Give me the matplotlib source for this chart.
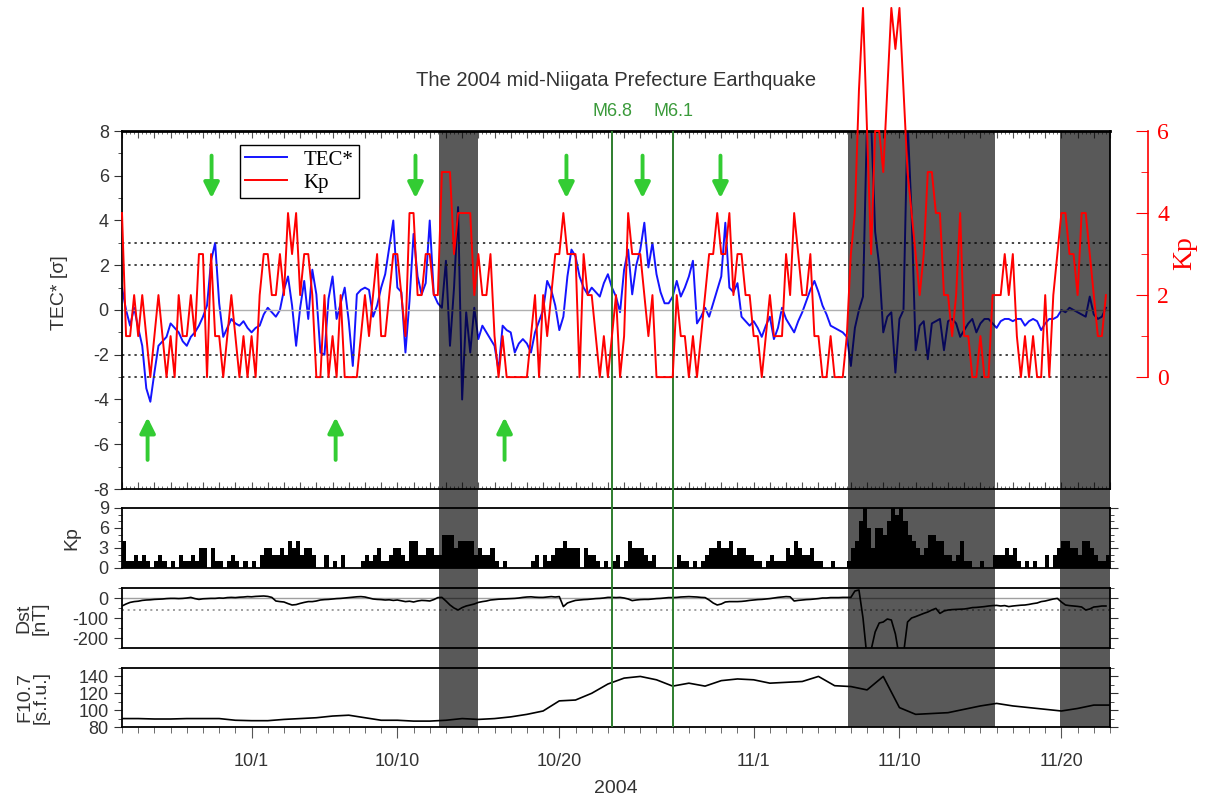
import numpy as np
import matplotlib
matplotlib.use("Agg")
import matplotlib.pyplot as plt
from matplotlib.ticker import MultipleLocator, FixedLocator

plt.rcParams["font.family"] = ["Liberation Sans", "DejaVu Sans"]
plt.rcParams["axes.unicode_minus"] = False

# time axis: days since 2004-10-01 00:00, series start 9/23, 6-hourly samples
t0 = -8
step = 0.25

# Kp (6-hourly), one row per day from 9/23 to 11/22
kp = np.array([
    [4, 1, 1, 2], [1, 2, 1, 0], [1, 2, 1, 0], [1, 0, 2, 1], [1, 2, 1, 3],
    [3, 0, 3, 1], [1, 0, 1, 2], [1, 0, 1, 0], [1, 0, 2, 3], [3, 2, 2, 3],
    [2, 4, 3, 4], [2, 3, 3, 2], [0, 0, 2, 0], [1, 0, 2, 0], [0, 0, 0, 1],
    [2, 1, 2, 3], [1, 1, 2, 3], [3, 2, 1, 4], [4, 2, 2, 3], [3, 2, 2, 5],
    [5, 5, 3, 4], [4, 4, 4, 2], [3, 2, 2, 3], [1, 0, 1, 0], [0, 0, 0, 0],
    [0, 1, 2, 0], [2, 1, 2, 3], [3, 4, 3, 3], [3, 0, 3, 2], [2, 1, 0, 1],
    [0, 1, 2, 0], [1, 4, 3, 3], [3, 2, 1, 2], [0, 0, 0, 0], [0, 2, 1, 1],
    [0, 1, 0, 1], [2, 3, 3, 4], [3, 3, 4, 2], [3, 3, 2, 2], [1, 1, 0, 1],
    [2, 1, 1, 1], [3, 2, 4, 3], [2, 2, 3, 1], [1, 0, 0, 1], [0, 0, 0, 1],
    [3, 4, 7, 9], [6, 3, 6, 6], [5, 7, 9, 8], [9, 7, 5, 4], [3, 2, 3, 5],
    [5, 4, 4, 2], [2, 1, 2, 4], [1, 1, 0, 0], [1, 0, 0, 2], [2, 2, 3, 2],
    [3, 1, 0, 1], [0, 1, 0, 0], [2, 0, 2, 3], [4, 4, 3, 3], [2, 4, 4, 3],
    [2, 1, 1, 2],
]).ravel()

# normalised TEC anomaly (6-hourly)
tec = np.array([
    [1.0, 0.0, -0.7, 0.1], [-0.8, -1.6, -3.5, -4.1], [-2.8, -1.6, -1.4, -1.2],
    [-0.6, -0.8, -1.0, -1.4], [-1.6, -1.2, -1.0, -0.7], [-0.3, 0.2, 2.2, 3.0],
    [0.3, -1.2, -0.8, -0.4], [-0.6, -0.7, -0.5, -0.8], [-1.0, -0.8, -0.7, -0.2],
    [0.1, -0.1, -0.3, 0.0], [0.9, 1.5, 0.2, -1.6], [0.1, 1.3, -0.4, 1.8],
    [0.7, -1.9, -2.0, 0.5], [1.5, -0.4, 0.3, 1.0], [-0.5, -2.5, 0.7, 0.9],
    [1.0, 0.9, -0.3, 0.2], [1.0, 1.6, 2.8, 4.0], [1.0, 0.8, -1.9, 0.4],
    [3.4, 1.5, 0.7, 1.2], [4.0, 0.7, 0.3, 0.1], [2.2, -1.6, 1.0, 4.6],
    [-4.0, -0.1, -1.9, 0.1], [-1.3, -0.7, -1.0, -1.3], [-1.6, -2.7, -0.7, -0.9],
    [-1.0, -1.9, -1.5, -1.3], [-1.5, -1.9, -1.0, -0.5], [0.0, 1.3, 0.9, 0.2],
    [-0.9, -0.3, 1.5, 2.7], [2.4, 1.5, 1.0, 0.7], [1.0, 0.8, 0.6, 1.2],
    [1.6, 1.0, 0.6, -0.1], [1.8, 2.7, 0.7, 2.0], [2.7, 3.9, 1.9, 3.0],
    [1.6, 0.8, 0.3, 0.3], [0.6, 1.3, 0.6, 1.0], [1.5, 2.2, -0.6, -0.3],
    [0.1, -0.3, 0.3, 0.9], [1.5, 3.9, 1.0, 0.8], [1.2, -0.3, -0.5, -0.7],
    [-0.5, -0.8, -1.2, -0.7], [-0.3, -1.3, -0.8, 0.1], [-0.4, -0.7, -1.0, -0.5],
    [-0.1, 0.4, 0.9, 1.3], [0.8, 0.2, -0.2, -0.7], [-0.8, -0.9, -1.0, -1.2],
    [-2.5, -0.8, 0.0, 0.6], [8.5, 8.5, 3.5, 2.0], [-1.0, -0.3, -0.1, -2.8],
    [-0.4, 0.0, 8.5, 4.3], [-1.8, -0.7, -0.5, -2.2], [-0.6, -0.5, -0.4, -1.8],
    [-0.5, -0.4, -0.6, -1.2], [-0.9, -0.6, -0.4, -1.0], [-0.6, -0.4, -0.4, -0.6],
    [-0.8, -0.5, -0.4, -0.4], [-0.5, -0.4, -0.4, -0.7], [-0.5, -0.4, -0.5, -0.9],
    [-0.6, -0.4, -0.4, -0.3], [0.0, -0.1, 0.1, 0.0], [-0.1, -0.2, -0.3, 0.6],
    [-0.2, -0.4, -0.3, 0.1],
]).ravel()

# Dst [nT] (6-hourly)
dst = np.array([
    [-40, -30, -22, -18], [-16, -12, -10, -9], [-7, -6, -5, -3], [-2, -2, -3, -2],
    [0, 3, -3, -7], [-4, -3, -2, -2], [0, -1, 2, 3], [2, 4, 5, 7],
    [6, 8, 9, 10], [8, 3, -15, -18], [-20, -28, -35, -33], [-27, -22, -18, -18],
    [-15, -10, -8, -7], [-5, -3, -2, 0], [2, 4, 6, 7], [5, 0, -5, -7],
    [-8, -10, -9, -12], [-10, -14, -18, -16], [-20, -15, -12, -13], [-15, -8, 2, 3],
    [-15, -35, -50, -60], [-48, -40, -35, -30], [-22, -18, -15, -10], [-8, -6, -5, -4],
    [-3, -2, 0, 3], [5, 6, 4, 3], [3, 5, 7, 5], [7, -43, -25, -18],
    [-12, -10, -8, -7], [-5, -3, -2, 0], [3, 3, 2, 3], [0, -5, -13, -10],
    [-8, -7, -7, -5], [-3, -2, 0, 2], [2, 3, 5, 6], [7, 6, 5, 3],
    [2, -10, -25, -35], [-30, -20, -18, -18], [-18, -17, -15, -12], [-10, -8, -7, -5],
    [-3, 0, 3, 5], [7, 6, -15, -12], [-10, -8, -7, -5], [-3, 0, 0, 2],
    [2, 2, 3, 3], [3, 35, 40, -100], [-300, -260, -170, -125], [-120, -105, -110, -180],
    [-300, -280, -120, -100], [-93, -85, -77, -70], [-60, -52, -77, -65], [-60, -58, -57, -56],
    [-55, -52, -48, -47], [-45, -43, -40, -38], [-37, -40, -38, -43], [-40, -38, -36, -35],
    [-32, -28, -25, -18], [-15, -10, -5, -2], [-20, -35, -38, -40], [-42, -45, -60, -55],
    [-45, -43, -40, -40],
]).ravel()

# F10.7 [s.f.u.], daily from 9/23 to 11/23
f107 = [90, 90, 89.5, 89.5, 90, 90, 90, 88, 87.5, 87.5, 89, 90, 91, 93, 94, 91,
        88, 88, 87, 87, 88, 90, 89, 90, 92, 95, 99, 111, 112, 120, 131, 138,
        140, 136, 128.5, 132, 128.5, 135, 137, 136, 132, 133, 134, 140, 129, 128,
        124, 140, 103, 95, 96, 97, 101, 105, 108, 105, 103, 101, 99, 102, 106, 106]

storm_spans = [(11.6, 13.95), (36.85, 45.9), (49.9, 53.0)]
quake_days = [22.28, 26.05]
quake_labels = ["M6.8", "M6.1"]
down_arrow_days = [-2.47, 10.12, 19.44, 24.14, 28.95]
up_arrow_days = [-6.42, 5.19, 15.62]
date_ticks = [0, 9, 19, 31, 40, 50]
date_labels = ["10/1", "10/10", "10/20", "11/1", "11/10", "11/20"]

W, H = 1209, 805
TXT = "#333333"


def box(x0, y0, x1, y1):
    return [x0 / W, 1 - y1 / H, (x1 - x0) / W, (y1 - y0) / H]


def style_y(ax, major, minor, length=6):
    ax.yaxis.set_major_locator(MultipleLocator(major))
    ax.yaxis.set_minor_locator(MultipleLocator(minor))
    ax.tick_params(axis="y", which="both", direction="out", left=True, right=True,
                   labelsize=13, colors=TXT, labelcolor=TXT)
    ax.tick_params(axis="y", which="major", length=length)
    ax.tick_params(axis="y", which="minor", length=3)
    for s in ax.spines.values():
        s.set_linewidth(1.3)


t = t0 + np.arange(len(tec)) * step
t_kp = t0 + np.arange(len(kp)) * step
t_dst = t0 + np.arange(len(dst)) * step
t_f = t0 + np.arange(len(f107))

fig = plt.figure(figsize=(W / 100, H / 100), dpi=100)

# main TEC panel
ax = fig.add_axes(box(122, 131, 1110, 489))
ax.set_zorder(1)
ax.plot(t, tec, color="#1414ff", lw=1.4, label="TEC*")
ax.axhline(0, color="#b0b0b0", lw=1.0)
for lev in (-3, -2, 2, 3):
    ax.axhline(lev, color="#444444", lw=1.4, ls=(0, (1.2, 2.0)))
ax.set_xlim(-8, 53)
ax.set_ylim(-8, 8)
style_y(ax, 2, 1)
ax.xaxis.set_major_locator(MultipleLocator(1))
ax.xaxis.set_minor_locator(MultipleLocator(0.25))
ax.tick_params(axis="x", which="both", direction="in", top=True, bottom=True,
               labelbottom=False, color="#555555")
ax.tick_params(axis="x", which="major", length=5)
ax.tick_params(axis="x", which="minor", length=2.5)
ax.spines["top"].set_linewidth(2)

for d in down_arrow_days:
    ax.annotate("", xy=(d, 5.0), xytext=(d, 6.9),
                arrowprops=dict(arrowstyle="-|>", color="#33cc33", lw=2.8,
                                mutation_scale=23, shrinkA=0, shrinkB=0))
for d in up_arrow_days:
    ax.annotate("", xy=(d, -4.8), xytext=(d, -6.7),
                arrowprops=dict(arrowstyle="-|>", color="#33cc33", lw=2.8,
                                mutation_scale=23, shrinkA=0, shrinkB=0))

# Kp panel
ax_kp = fig.add_axes(box(122, 508, 1110, 568))
ax_kp.bar(t_kp, kp, width=step, align="edge", color="black", lw=0)
ax_kp.set_ylim(0, 9)
style_y(ax_kp, 3, 1)

# Dst panel
ax_dst = fig.add_axes(box(122, 588, 1110, 648))
ax_dst.axhline(0, color="#a0a0a0", lw=1.0)
ax_dst.axhline(-60, color="#909090", lw=1.2, ls=(0, (1.2, 2.2)))
ax_dst.plot(t_dst, dst, color="black", lw=1.2)
ax_dst.set_ylim(-250, 50)
style_y(ax_dst, 100, 50)

# F10.7 panel
ax_f = fig.add_axes(box(122, 668, 1110, 727))
ax_f.plot(t_f, f107, color="black", lw=1.2)
ax_f.set_ylim(80, 150)
style_y(ax_f, 20, 10)

for a in (ax_kp, ax_dst, ax_f):
    a.set_facecolor("none")
    a.set_xlim(-8, 53)
    a.set_zorder(1)
for a in (ax_kp, ax_dst):
    a.tick_params(axis="x", which="both", bottom=False, labelbottom=False)

ax_f.xaxis.set_major_locator(FixedLocator(date_ticks))
ax_f.set_xticklabels(date_labels)
ax_f.xaxis.set_minor_locator(MultipleLocator(1))
ax_f.tick_params(axis="x", which="major", direction="out", length=8, pad=11,
                 labelsize=13, colors="#555555", labelcolor=TXT)
ax_f.tick_params(axis="x", which="minor", direction="out", length=4, colors="#555555")

# storm shading and earthquake lines across all panels
ov = fig.add_axes(box(122, 131, 1110, 727))
ov.set_zorder(2)
ov.set_xlim(-8, 53)
ov.set_ylim(0, 1)
ov.axis("off")
for a, b in storm_spans:
    ov.axvspan(a, b, color="black", alpha=0.65, lw=0)
for d, lab in zip(quake_days, quake_labels):
    ov.axvline(d, color="#2e7d2e", lw=1.4)
    ov.text(d, 1.032, lab, color="#3a9a3a", fontsize=13, ha="center", va="center",
            clip_on=False)

# Kp on the right axis of the TEC panel
ax2 = ax.twinx()
ax2.set_zorder(3)
ax2.plot(t_kp, kp, color="#ff0000", lw=1.4, clip_on=False, label="Kp")
ax2.set_ylim(-30 / 11, 6)
for s in ("left", "top", "bottom"):
    ax2.spines[s].set_visible(False)
ax2.spines["right"].set_position(("outward", 27))
ax2.spines["right"].set_bounds(0, 6)
ax2.spines["right"].set_color("red")
ax2.spines["right"].set_linewidth(1.2)
ax2.set_yticks([0, 2, 4, 6], ["0", "2", "4", "6"], fontfamily="Liberation Serif",
               fontsize=17, color="red")
ax2.yaxis.set_minor_locator(FixedLocator([1, 3, 5]))
ax2.tick_params(axis="y", which="major", direction="in", length=9, color="red", pad=7)
ax2.tick_params(axis="y", which="minor", direction="in", length=5, color="red")

h1, l1 = ax.get_legend_handles_labels()
h2, l2 = ax2.get_legend_handles_labels()
leg = ax2.legend(h1 + h2, l1 + l2, loc="upper left",
                 bbox_to_anchor=(240 / W, 1 - 145 / H), bbox_transform=fig.transFigure,
                 borderaxespad=0, fancybox=False, framealpha=1, edgecolor="black",
                 prop={"family": "Liberation Serif", "size": 15},
                 handlelength=2.0, borderpad=0.25, labelspacing=0.15, handletextpad=0.8)
leg.get_frame().set_linewidth(1.0)

# texts
fig.text(616 / W, 1 - 80 / H, "The 2004 mid-Niigata Prefecture Earthquake",
         ha="center", va="center", fontsize=14.5, color=TXT)
fig.text(616 / W, 1 - 788 / H, "2004", ha="center", va="center", fontsize=14, color=TXT)
fig.text(59 / W, 1 - 293 / H, "TEC* [σ]", rotation=90, ha="center", va="center",
         fontsize=14, color=TXT)
fig.text(1185 / W, 1 - 253 / H, "Kp", rotation=90, ha="center", va="center",
         fontsize=20, color="red", family="Liberation Serif")
fig.text(72 / W, 1 - 538 / H, "Kp", rotation=90, ha="center", va="center",
         fontsize=14, color=TXT)
fig.text(32 / W, 1 - 618 / H, "Dst\n[nT]", rotation=90, ha="center", va="center",
         fontsize=14, color=TXT, linespacing=1.0)
fig.text(33 / W, 1 - 697 / H, "F10.7\n[s.f.u.]", rotation=90, ha="center", va="center",
         fontsize=14, color=TXT, linespacing=1.0)

fig.savefig("out.png", dpi=100, facecolor="white")
